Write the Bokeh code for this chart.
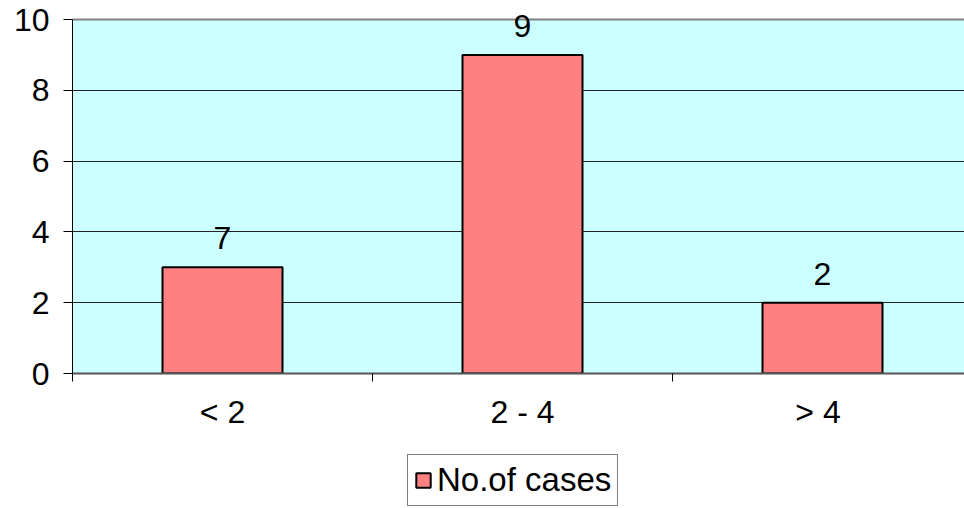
import numpy as np
from bokeh.plotting import figure
from bokeh.models import (ColumnDataSource, FixedTicker, Range1d, Legend, LegendItem,
                          BoxAnnotation, Span)
from bokeh.layouts import column
from bokeh.core.properties import value
from bokeh.embed import file_html
from bokeh.resources import INLINE

categories = ["< 2", "2 - 4", ">  4"]
cases = [3, 9, 2]
bar_labels = ["7", "9", "2"]
series_name = "No.of cases"
y_ticks = [0, 2, 4, 6, 8, 10]
y_max = 10

FONT = "Liberation Sans"
FS = "32px"
BAR_FILL = "#FF8080"
PLOT_BG = "#CCFFFF"
xs = [i + 0.5 for i in range(len(categories))]
src = ColumnDataSource(dict(x=xs, top=cases, lab=bar_labels))

FRAME_H = 373
PX_PER_UNIT = 35.4
p = figure(width=964, height=450, output_backend="svg", toolbar_location=None,
           x_range=Range1d(0, 892 / 300),
           y_range=Range1d(0, FRAME_H / PX_PER_UNIT),
           min_border_left=72, min_border_right=0, min_border_top=0,
           min_border_bottom=450 - FRAME_H)
p.background_fill_color = "white"
p.border_fill_color = "white"
p.outline_line_color = None

p.add_layout(BoxAnnotation(bottom=0, top=y_max, fill_color=PLOT_BG, fill_alpha=1,
                           line_color=None, level="image"))
p.add_layout(Span(location=y_max, dimension="width", line_color="#808080",
                  line_width=2, level="underlay"))

r = p.vbar(x="x", top="top", width=0.4, bottom=0, source=src,
           fill_color=BAR_FILL, line_color="black", line_width=2)
p.text(x="x", y="top", text="lab", source=src, text_align="center",
       text_baseline="middle", y_offset=-29, text_font=value(FONT),
       text_font_size=FS, text_color="black")

# y axis
p.yaxis.ticker = FixedTicker(ticks=y_ticks)
p.yaxis.bounds = (0, y_max)
p.yaxis.axis_line_color = "black"
p.yaxis.major_tick_out = 9
p.yaxis.major_tick_in = 0
p.yaxis.minor_tick_line_color = None
p.yaxis.major_label_text_font = FONT
p.yaxis.major_label_text_font_size = FS
p.yaxis.major_label_standoff = 14
p.yaxis.major_label_text_color = "black"

# x axis
p.xaxis.ticker = FixedTicker(ticks=xs, minor_ticks=[0, 1, 2, 3])
p.xaxis.major_label_overrides = {x: c for x, c in zip(xs, categories)}
p.xaxis.axis_line_color = "#555555"
p.xaxis.axis_line_width = 2
p.xaxis.major_tick_out = 0
p.xaxis.major_tick_in = 0
p.xaxis.minor_tick_out = 8
p.xaxis.minor_tick_in = 0
p.xaxis.minor_tick_line_color = "black"
p.xaxis.major_label_text_font = FONT
p.xaxis.major_label_text_font_size = FS
p.xaxis.major_label_standoff = 12
p.xaxis.major_label_text_color = "black"

p.xgrid.grid_line_color = None
p.ygrid.grid_line_color = "#222222"
p.ygrid.grid_line_width = 1

# legend strip
q = figure(width=964, height=58, output_backend="svg", toolbar_location=None,
           x_range=Range1d(0, 1), y_range=Range1d(0, 1),
           x_axis_location=None, y_axis_location=None, min_border=0)
q.grid.visible = False
q.outline_line_color = None
q.background_fill_color = "white"
q.border_fill_color = "white"
legend_src = ColumnDataSource(dict(x=np.array([0.5]), top=np.array([np.nan])))
rq = q.vbar(x="x", top="top", width=0.4, source=legend_src, fill_color=BAR_FILL,
            line_color="black", line_width=2)
legend = Legend(items=[LegendItem(label=series_name, renderers=[rq])],
                location=(335, 2), orientation="horizontal",
                label_text_font=FONT, label_text_font_size="33px",
                glyph_width=18, glyph_height=18, label_standoff=5,
                padding=6, margin=0, border_line_color="black",
                border_line_width=1, background_fill_color="white",
                label_text_color="black")
q.add_layout(legend, "center")

layout = column(p, q, spacing=0)
open("out.html", "w").write(file_html(layout, INLINE))
